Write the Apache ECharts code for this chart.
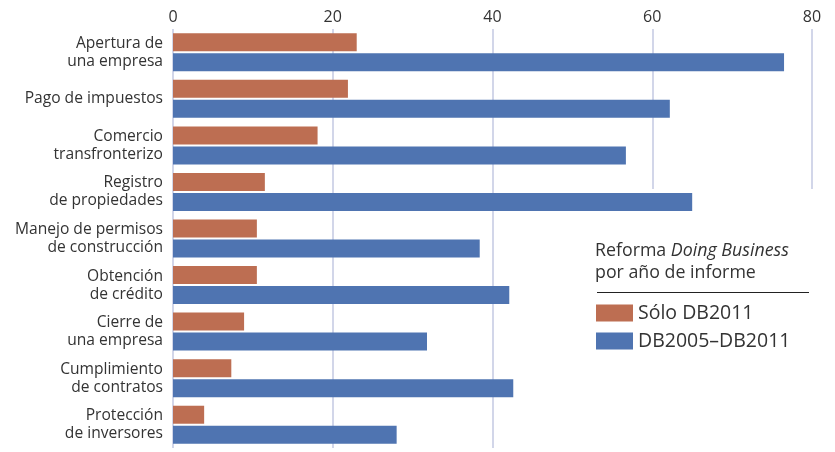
<!DOCTYPE html>
<html>
<head>
<meta charset="utf-8">
<script src="https://cdn.jsdelivr.net/npm/echarts@6/dist/echarts.min.js"></script>
<style>
html,body{margin:0;padding:0;background:#fff;}
#chart{width:835px;height:452px;}
</style>
</head>
<body>
<div id="chart"></div>
<script>
var categories = ['Apertura de\nuna empresa','Pago de impuestos','Comercio\ntransfronterizo','Registro\nde propiedades','Manejo de permisos\nde construcción','Obtención\nde crédito','Cierre de\nuna empresa','Cumplimiento\nde contratos','Protección\nde inversores'];
var soloDB2011 = [23.0, 21.9, 18.1, 11.5, 10.5, 10.5, 8.9, 7.3, 3.9];
var db2005_2011 = [76.5, 62.2, 56.7, 65.0, 38.4, 42.1, 31.8, 42.6, 28.0];
var seriesNames = ['Sólo DB2011', 'DB2005–DB2011'];
var FONT = 'Open Sans';

var chart = echarts.init(document.getElementById('chart'), null, {renderer:'canvas'});
chart.setOption({
  animation: false,
  backgroundColor: '#fff',
  title: {
    left: 595, top: 240, padding: 0,
    text: '{a|Reforma }{b|Doing Business}\n{a|por año de informe}',
    textStyle: {
      fontWeight: 'normal',
      rich: {
        a: {fontFamily: FONT, fontSize: 17.8, fontWeight: 'normal', color: '#333', lineHeight: 22},
        b: {fontFamily: FONT, fontSize: 17.8, fontWeight: 'normal', color: '#333', fontStyle: 'italic', lineHeight: 22}
      }
    }
  },
  legend: {
    orient: 'vertical', left: 596, top: 303, padding: 0,
    itemWidth: 37, itemHeight: 17, itemGap: 8, icon: 'rect',
    textStyle: {fontFamily: FONT, fontSize: 19.5, color: '#333'},
    data: seriesNames
  },
  graphic: [
    {type: 'rect', z: 1, silent: true, shape: {x: 590, y: 189, width: 245, height: 263}, style: {fill: '#fff'}},
    {type: 'line', z: 5, silent: true, shape: {x1: 597, y1: 292.5, x2: 809, y2: 292.5}, style: {stroke: '#222', lineWidth: 1}}
  ],
  grid: {left: 173, right: 23, top: 29, bottom: 4, containLabel: false},
  xAxis: {
    type: 'value', position: 'top', min: 0, max: 80, interval: 20,
    axisLine: {show: false}, axisTick: {show: false},
    axisLabel: {fontFamily: FONT, fontSize: 16, color: '#333', margin: 4},
    splitLine: {show: true, lineStyle: {color: '#c3c9e2', width: 1.5}}
  },
  yAxis: {
    type: 'category', inverse: true, data: categories,
    axisLine: {show: false}, axisTick: {show: false},
    axisLabel: {fontFamily: FONT, fontSize: 15.6, color: '#333', lineHeight: 18, margin: 10, align: 'right'}
  },
  series: [
    {name: seriesNames[0], type: 'bar', data: soloDB2011, barWidth: 18, barGap: '11%', z: 2,
     itemStyle: {color: '#bd6e52'}},
    {name: seriesNames[1], type: 'bar', data: db2005_2011, barWidth: 18, z: 2,
     itemStyle: {color: '#4f74b1'}}
  ]
});
</script>
</body>
</html>
